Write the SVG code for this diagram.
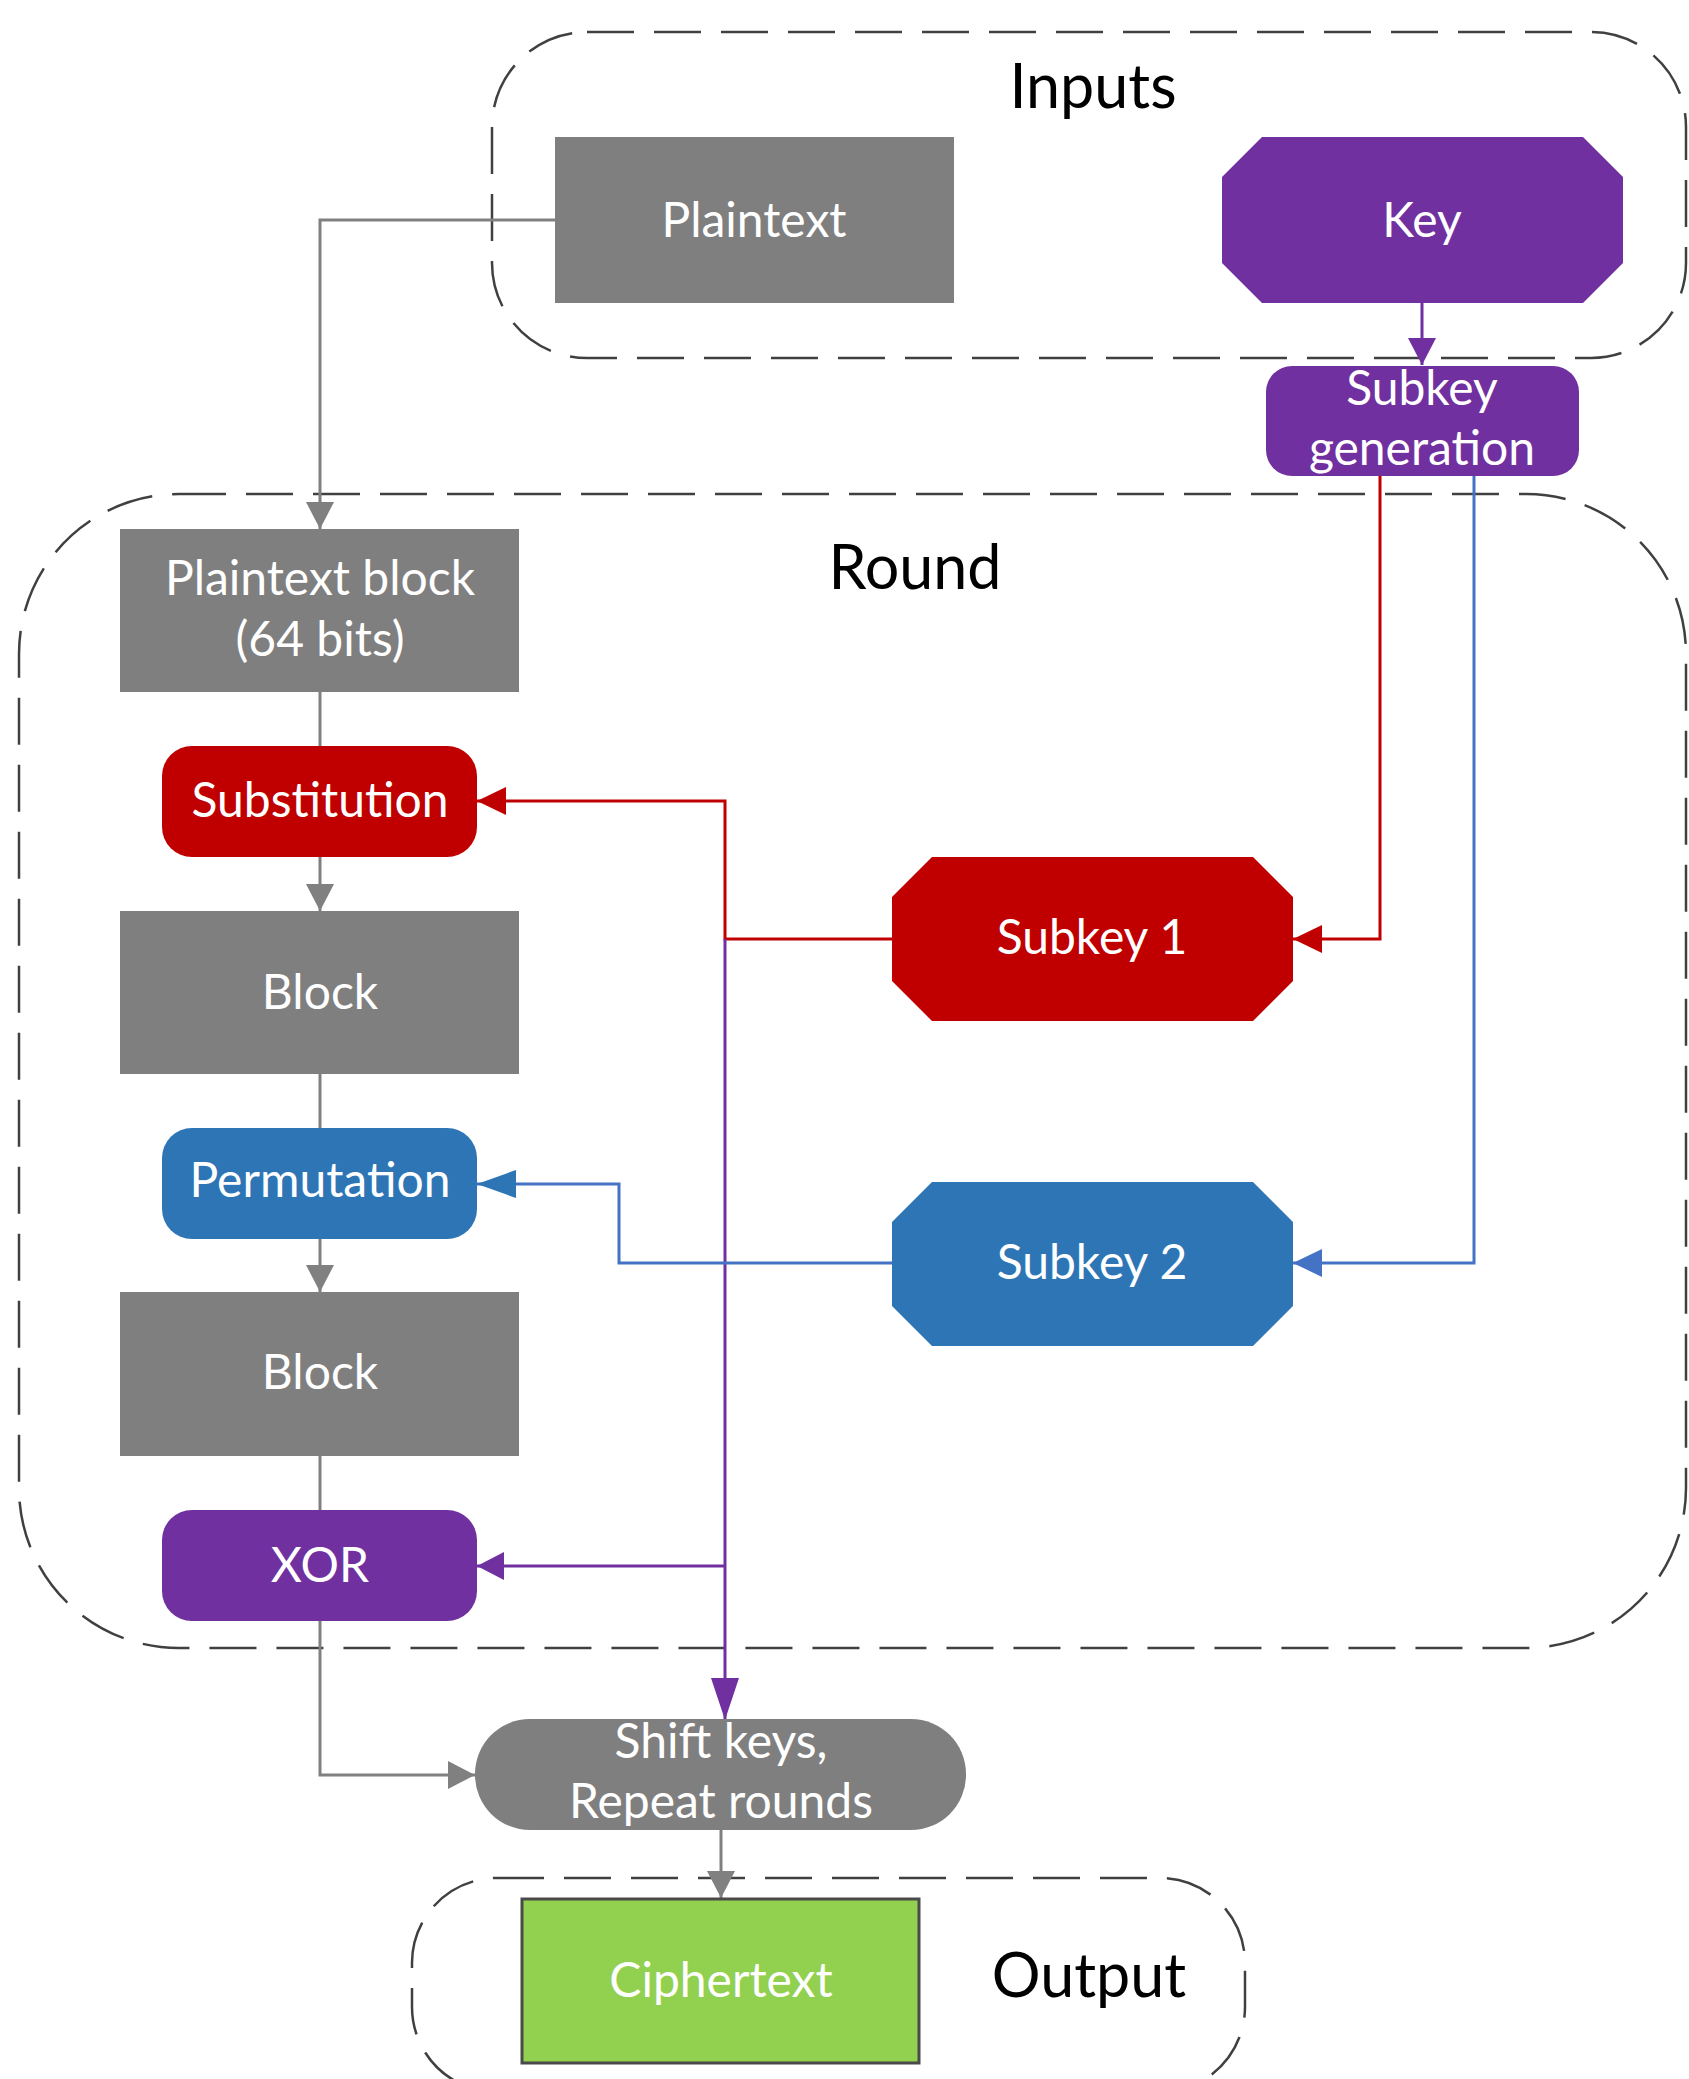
<svg xmlns="http://www.w3.org/2000/svg" width="1689" height="2079" viewBox="0 0 1689 2079">
<style>
.cont{fill:none;stroke:#404040;stroke-width:2.5;stroke-dasharray:47 20}
.title{font-family:Lato,"Liberation Sans",sans-serif;font-size:61px;fill:#000;text-anchor:middle}
.lbl{font-family:Lato,"Liberation Sans",sans-serif;font-size:48px;fill:#ffffff;text-anchor:middle}
.gray{fill:#7f7f7f}
.purple{fill:#7030a0}
.red{fill:#c00000}
.blue{fill:#2e75b6}
.c{fill:none;stroke-width:3}
.cg{stroke:#808080}
.cp{stroke:#7030a0}
.cr{stroke:#c00000}
.cb{stroke:#4472c4}
</style>
<defs>
<marker id="ag" markerUnits="userSpaceOnUse" markerWidth="28" markerHeight="28" refX="27" refY="14" orient="auto"><path d="M0,0 L27,14 L0,28 Z" fill="#808080"/></marker>
<marker id="ap" markerUnits="userSpaceOnUse" markerWidth="28" markerHeight="28" refX="27" refY="14" orient="auto"><path d="M0,0 L27,14 L0,28 Z" fill="#7030a0"/></marker>
<marker id="apl" markerUnits="userSpaceOnUse" markerWidth="44" markerHeight="30" refX="42" refY="15" orient="auto"><path d="M0,1 L42,15 L0,29 Z" fill="#7030a0"/></marker>
<marker id="ar" markerUnits="userSpaceOnUse" markerWidth="30" markerHeight="30" refX="29" refY="15" orient="auto"><path d="M0,1 L29,15 L0,29 Z" fill="#c00000"/></marker>
<marker id="ab" markerUnits="userSpaceOnUse" markerWidth="30" markerHeight="30" refX="29" refY="15" orient="auto"><path d="M0,1 L29,15 L0,29 Z" fill="#4472c4"/></marker>
<marker id="abl" markerUnits="userSpaceOnUse" markerWidth="40" markerHeight="30" refX="39" refY="15" orient="auto"><path d="M0,1 L39,15 L0,29 Z" fill="#2e75b6"/></marker>
</defs>

<g id="containers">
<rect id="inputs" class="cont" x="492" y="32" width="1194" height="326" rx="95" ry="95"/>
<rect id="round" class="cont" x="19" y="494" width="1667" height="1154" rx="160" ry="160"/>
<rect id="output" class="cont" x="412" y="1878" width="833" height="214" rx="85" ry="85"/>
<text class="title" x="1093" y="108">Inputs</text>
<text class="title" x="915" y="589">Round</text>
<text class="title" x="1089" y="1997">Output</text>
</g>

<g id="connectors">
<path class="c cg" d="M555,220 H320 V529" marker-end="url(#ag)"/>
<path class="c cp" d="M1422,303 V365" marker-end="url(#ap)"/>
<path class="c cg" d="M320,692 V746"/>
<path class="c cg" d="M320,857 V911" marker-end="url(#ag)"/>
<path class="c cg" d="M320,1074 V1128"/>
<path class="c cg" d="M320,1239 V1292" marker-end="url(#ag)"/>
<path class="c cg" d="M320,1456 V1510"/>
<path class="c cg" d="M320,1621 V1775 H475" marker-end="url(#ag)"/>
<path class="c cg" d="M721,1830 V1898" marker-end="url(#ag)"/>
<path class="c cr" d="M1380,476 V939 H1293" marker-end="url(#ar)"/>
<path class="c cb" d="M1474,476 V1263 H1293" marker-end="url(#ab)"/>
<path class="c cr" d="M892,939 H725 V801 H477" marker-end="url(#ar)"/>
<path class="c cp" d="M725,939 V1720" marker-end="url(#apl)"/>
<path class="c cp" d="M725,1566 H477" marker-end="url(#ap)"/>
<path class="c cb" d="M892,1263 H619 V1184 H477" marker-end="url(#abl)"/>
</g>

<g id="plaintext">
<rect class="gray" x="555" y="137" width="399" height="166"/>
<text class="lbl" x="754" y="237">Plaintext</text>
</g>
<g id="key">
<polygon class="purple" points="1262,137 1583,137 1623,177 1623,263 1583,303 1262,303 1222,263 1222,177"/>
<text class="lbl" x="1422" y="237">Key</text>
</g>
<g id="subkey-generation">
<rect class="purple" x="1266" y="366" width="313" height="110" rx="26" ry="26"/>
<text class="lbl" x="1422" y="405">Subkey</text>
<text class="lbl" x="1422" y="465">generation</text>
</g>
<g id="plaintext-block">
<rect class="gray" x="120" y="529" width="399" height="163"/>
<text class="lbl" x="320" y="595">Plaintext block</text>
<text class="lbl" x="320" y="656">(64 bits)</text>
</g>
<g id="substitution">
<rect class="red" x="162" y="746" width="315" height="111" rx="30" ry="30"/>
<text class="lbl" x="320" y="817">Substitution</text>
</g>
<g id="block1">
<rect class="gray" x="120" y="911" width="399" height="163"/>
<text class="lbl" x="320" y="1009">Block</text>
</g>
<g id="permutation">
<rect class="blue" x="162" y="1128" width="315" height="111" rx="30" ry="30"/>
<text class="lbl" x="320" y="1197">Permutation</text>
</g>
<g id="block2">
<rect class="gray" x="120" y="1292" width="399" height="164"/>
<text class="lbl" x="320" y="1389">Block</text>
</g>
<g id="xor">
<rect class="purple" x="162" y="1510" width="315" height="111" rx="30" ry="30"/>
<text class="lbl" x="320" y="1582">XOR</text>
</g>
<g id="subkey1">
<polygon class="red" points="932,857 1253,857 1293,897 1293,981 1253,1021 932,1021 892,981 892,897"/>
<text class="lbl" x="1092" y="954">Subkey 1</text>
</g>
<g id="subkey2">
<polygon class="blue" points="932,1182 1253,1182 1293,1222 1293,1306 1253,1346 932,1346 892,1306 892,1222"/>
<text class="lbl" x="1092" y="1279">Subkey 2</text>
</g>
<g id="shift">
<rect class="gray" x="475" y="1719" width="491" height="111" rx="55" ry="55"/>
<text class="lbl" x="721" y="1758">Shift keys,</text>
<text class="lbl" x="721" y="1818">Repeat rounds</text>
</g>
<g id="ciphertext">
<rect x="522" y="1899" width="397" height="164" fill="#92d050" stroke="#4a4a4a" stroke-width="3"/>
<text class="lbl" x="721" y="1997" fill="#f2f2f2">Ciphertext</text>
</g>
</svg>
